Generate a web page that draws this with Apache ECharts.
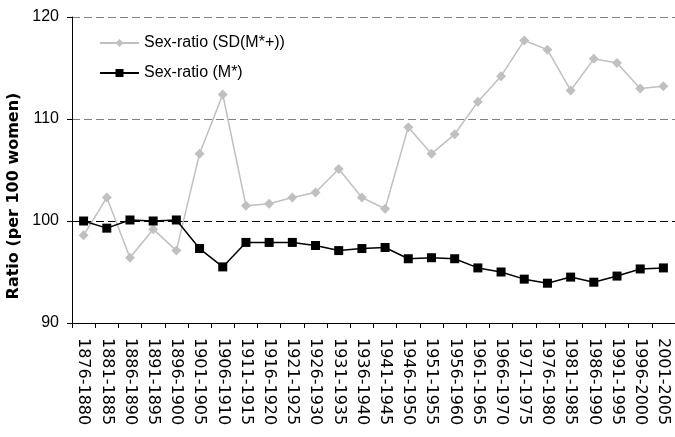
<!DOCTYPE html>
<html>
<head>
<meta charset="utf-8">
<script src="https://cdn.jsdelivr.net/npm/echarts@6/dist/echarts.min.js"></script>
<style>
html,body{margin:0;padding:0;background:#fff;}
#chart{width:675px;height:437px;}
</style>
</head>
<body>
<div id="chart"></div>
<script>
var categories = ["1876-1880","1881-1885","1886-1890","1891-1895","1896-1900","1901-1905","1906-1910","1911-1915","1916-1920","1921-1925","1926-1930","1931-1935","1936-1940","1941-1945","1946-1950","1951-1955","1956-1960","1961-1965","1966-1970","1971-1975","1976-1980","1981-1985","1986-1990","1991-1995","1996-2000","2001-2005"];
var sdSeriesName = "Sex-ratio (SD(M*+))";
var sdValues = [98.6, 102.3, 96.4, 99.2, 97.1, 106.6, 112.4, 101.5, 101.7, 102.3, 102.8, 105.1, 102.3, 101.2, 109.2, 106.6, 108.5, 111.7, 114.2, 117.7, 116.8, 112.8, 115.9, 115.5, 113.0, 113.2];
var mSeriesName = "Sex-ratio (M*)";
var mValues = [100.0, 99.3, 100.1, 100.0, 100.1, 97.3, 95.5, 97.9, 97.9, 97.9, 97.6, 97.1, 97.3, 97.4, 96.3, 96.4, 96.3, 95.4, 95.0, 94.3, 93.9, 94.5, 94.0, 94.6, 95.3, 95.4];
var yTitle = "Ratio (per 100 women)";
var yMin = 90, yMax = 120, yInterval = 10;

var chart = echarts.init(document.getElementById('chart'), null, {renderer:'canvas'});
chart.setOption({
  animation: false,
  backgroundColor: '#fff',
  grid: {left: 72, top: 17, right: -9, bottom: 114, containLabel: false},
  legend: {
    left: 99, top: 35, orient: 'vertical', padding: 0,
    itemWidth: 39, itemHeight: 10, itemGap: 14,
    textStyle: {fontFamily: 'Liberation Sans, Arial', fontSize: 16, color: '#000'},
    data: [sdSeriesName, mSeriesName]
  },
  graphic: [{
    type: 'text', x: 13.5, y: 196, rotation: Math.PI/2,
    style: {text: yTitle, font: 'bold 16px "DejaVu Sans"', fill: '#000', align: 'center', verticalAlign: 'middle'}
  }],
  xAxis: {
    type: 'category', data: categories, boundaryGap: true,
    axisLine: {lineStyle: {color: '#000', width: 1}},
    axisTick: {show: true, inside: false, length: 5, alignWithLabel: false, lineStyle: {color: '#000'}},
    axisLabel: {rotate: -90, interval: 0, margin: 15, fontFamily: 'DejaVu Sans', fontSize: 16, color: '#000'},
    splitLine: {show: false}
  },
  yAxis: {
    type: 'value', min: yMin, max: yMax, interval: yInterval,
    axisLine: {show: true, lineStyle: {color: '#000', width: 1}},
    axisTick: {show: true, inside: false, length: 5, lineStyle: {color: '#000'}},
    axisLabel: {margin: 13, fontFamily: 'Liberation Sans, Arial', fontSize: 16, color: '#000'},
    splitLine: {show: true, lineStyle: {color: ['#000', '#000', '#808080', '#808080'], type: [8, 4], width: 1}}
  },
  series: [
    {
      name: sdSeriesName, type: 'line', data: sdValues,
      symbol: 'diamond', symbolSize: 10,
      itemStyle: {color: '#c0c0c0'},
      lineStyle: {color: '#c0c0c0', width: 1.5},
      clip: false
    },
    {
      name: mSeriesName, type: 'line', data: mValues,
      symbol: 'rect', symbolSize: 9,
      itemStyle: {color: '#000'},
      lineStyle: {color: '#000', width: 1.5},
      clip: false
    }
  ]
});
</script>
</body>
</html>
